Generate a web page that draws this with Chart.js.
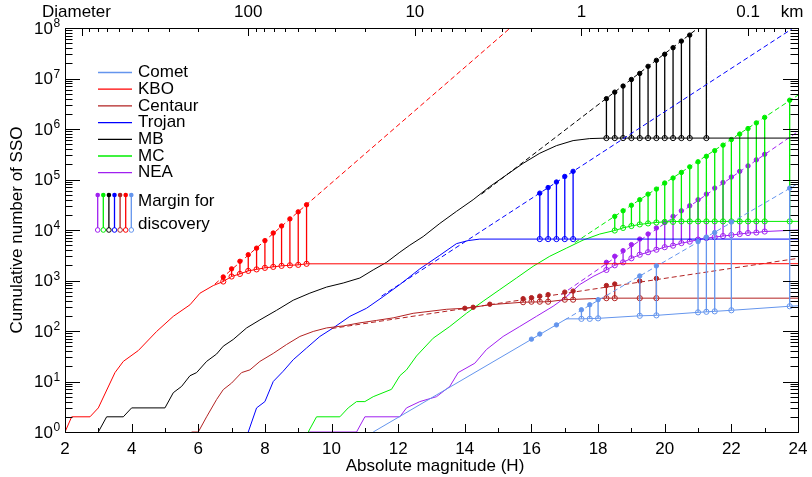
<!DOCTYPE html>
<html>
<head>
<meta charset="utf-8">
<script src="https://cdn.jsdelivr.net/npm/chart.js@4.4.1/dist/chart.umd.min.js"></script>
<style>
  html, body { margin: 0; background: #fff; }
  #wrap { width: 812px; height: 477px; }
</style>
</head>
<body>
<div id="wrap"><canvas id="c" width="812" height="477"></canvas></div>
<script>
// ---- values (H = absolute magnitude, N = cumulative number) ----
const cometH = [11.25, 17.05, 17.5, 18.0, 19.25, 19.75, 21.0, 21.5, 22.0, 23.75, 24.0];
const cometN = [1, 174, 174, 178, 200, 204, 234, 245, 257, 309, 316];
const cometDashH = [17.0, 24.0];
const cometDashN = [166, 83200];
const cometStemH = [16.0, 16.25, 16.75, 17.5, 17.75, 18.0, 19.25, 19.75, 21.0, 21.25, 21.5, 22.0, 23.75];
const cometModel = [69, 87, 132, 263, 331, 417, 1230, 1950, 5890, 7240, 8910, 14500, 67600];
const cometKnown = [null, null, null, 174, 174, 178, 200, 204, 234, 240, 245, 257, 309];

const kboH = [2.0, 2.2, 2.75, 3.0, 3.5, 3.75, 4.2, 4.75, 5.25, 5.75, 6.05, 6.45, 6.75, 7.0, 7.25, 7.5, 7.75, 8.0, 8.25, 8.5, 8.75, 9.0, 9.25, 24.0];
const kboN = [1, 2, 2, 3, 15, 25, 41, 98, 195, 330, 560, 795, 955, 1200, 1350, 1550, 1660, 1780, 1860, 1950, 2000, 2040, 2140, 2150];
const kboDashH = [6.5, 15.5];
const kboDashN = [850, 1.2e8];
const kboStemH = [6.75, 7.0, 7.25, 7.5, 7.75, 8.0, 8.25, 8.5, 8.75, 9.0, 9.25];
const kboModel = [1175, 1700, 2400, 3240, 4370, 6170, 8710, 12000, 16600, 22900, 31600];
const kboKnown = [955, 1200, 1350, 1550, 1660, 1780, 1860, 1950, 2000, 2040, 2140];

const centH = [5.8, 6.0, 6.25, 6.55, 6.75, 7.0, 7.3, 7.55, 7.85, 8.25, 8.65, 9.05, 9.45, 9.85, 10.35, 10.85, 11.35, 11.85, 12.45, 13.45, 14.0, 14.25, 14.75, 15.75, 16.5, 17.0, 17.85, 18.25, 24.0];
const centN = [1, 1, 2, 4.4, 6.9, 9.3, 15, 17, 25, 36, 54, 78, 98, 115, 126, 145, 162, 182, 224, 269, 282, 295, 331, 372, 380, 417, 437, 447, 447];
const centDashH = [10.0, 24.0];
const centDashN = [112, 2750];
const centStemH = [14.0, 14.25, 14.75, 15.75, 16.0, 16.25, 16.5, 17.0, 17.25, 18.25, 18.5, 19.25, 19.75];
const centModel = [282, 295, 339, 437, 457, 490, 525, 589, 617, 794, 851, 977, 1100];
const centKnown = [null, null, null, 372, 380, 380, 380, 417, 417, 447, 447, 447, 447];

const trojH = [7.5, 7.75, 8.0, 8.25, 8.55, 8.85, 9.25, 9.65, 10.05, 10.55, 11.05, 11.55, 12.05, 12.65, 13.25, 13.75, 14.1, 14.45, 24.0];
const trojN = [1, 3, 4, 10, 16, 27, 46, 78, 115, 195, 282, 479, 832, 1700, 3160, 5370, 6170, 6610, 6610];
const trojDashH = [11.5, 24.0];
const trojDashN = [490, 1.15e8];
const trojStemH = [16.25, 16.5, 16.75, 17.0, 17.25];
const trojModel = [53700, 69200, 89100, 115000, 145000];
const trojKnown = [6610, 6610, 6610, 6610, 6610];

const mbH = [3.0, 3.25, 3.75, 4.0, 5.0, 5.25, 5.5, 5.75, 5.95, 6.25, 6.55, 6.75, 7.05, 7.45, 7.85, 8.35, 8.85, 9.35, 9.85, 10.35, 10.85, 11.25, 11.65, 12.05, 12.35, 12.75, 13.25, 13.75, 14.25, 14.75, 15.25, 15.75, 16.25, 16.75, 17.25, 17.75, 18.25, 24.0];
const mbN = [1, 2, 2, 3, 3, 6, 8, 13, 15, 25, 35, 50, 68, 115, 166, 257, 407, 562, 741, 891, 1120, 1620, 2290, 3630, 5010, 7410, 13500, 23400, 39800, 72400, 123000, 209000, 331000, 468000, 589000, 646000, 661000, 661000];
const mbDashH = [14.5, 21.6];
const mbDashN = [51300, 2.0e8];
const mbStemH = [18.25, 18.5, 18.75, 19.0, 19.25, 19.5, 19.75, 20.0, 20.25, 20.5, 20.75, 21.25];
const mbModel = [3.98e6, 5.37e6, 7.08e6, 9.55e6, 1.26e7, 1.74e7, 2.29e7, 3.02e7, 4.07e7, 5.50e7, 7.24e7, 1.3e8];
const mbKnown = [661000, 661000, 661000, 661000, 661000, 661000, 661000, 661000, 661000, 661000, 661000, 661000];

const mcH = [9.3, 9.55, 10.25, 10.5, 10.75, 11.0, 11.25, 11.8, 12.05, 12.25, 12.55, 13.05, 13.55, 14.05, 14.55, 15.05, 15.55, 16.05, 16.55, 17.05, 17.55, 18.05, 18.5, 18.75, 19.0, 19.25, 19.5, 19.75, 20.0, 20.5, 24.0];
const mcN = [1, 2, 2, 3, 4, 4, 5, 7, 13, 17, 32, 72, 123, 224, 389, 661, 1120, 1910, 3020, 4370, 6310, 8320, 9770, 11000, 12000, 12900, 13500, 14100, 14500, 14800, 14800];
const mcDashH = [17.3, 24.0];
const mcDashN = [5620, 4.68e6];
const mcStemH = [18.5, 18.75, 19.0, 19.25, 19.5, 19.75, 20.0, 20.25, 20.5, 20.75, 21.0, 21.25, 21.5, 21.75, 22.0, 22.25, 22.5, 22.75, 23.0, 23.75];
const mcModel = [18600, 24000, 30900, 39800, 51300, 64600, 85100, 107000, 138000, 178000, 224000, 288000, 372000, 479000, 617000, 794000, 1.02e6, 1.32e6, 1.70e6, 3.72e6];
const mcKnown = [9770, 11000, 12000, 12900, 13500, 14100, 14500, 14500, 14800, 14800, 14800, 14800, 14800, 14800, 14800, 14800, 14800, 14800, 14800, 14800];

const neaH = [9.3, 10.75, 11.0, 12.05, 12.25, 12.65, 13.15, 13.55, 13.8, 14.3, 14.65, 15.15, 15.65, 16.15, 16.65, 17.05, 17.45, 17.85, 18.25, 18.5, 18.75, 19.0, 19.25, 19.5, 19.75, 20.0, 20.25, 20.5, 20.75, 21.0, 21.25, 21.5, 21.75, 22.0, 22.25, 22.5, 22.75, 23.0, 24.0];
const neaN = [1, 1, 2, 2, 3, 4, 5, 8, 15, 23, 43, 78, 123, 195, 309, 479, 832, 1200, 1620, 2000, 2290, 2750, 3240, 3630, 4070, 4570, 4900, 5500, 5890, 6460, 6920, 7240, 7590, 7940, 8320, 8710, 8910, 9330, 10000];
const neaDashH = [16.9, 24.0];
const neaDashN = [525, 891000];
const neaStemH = [18.25, 18.5, 18.75, 19.0, 19.25, 19.5, 19.75, 20.0, 20.25, 20.5, 20.75, 21.0, 21.25, 21.5, 21.75, 22.0, 22.25, 22.5, 22.75, 23.0];
const neaModel = [2290, 3020, 3890, 5130, 6610, 8320, 11000, 14100, 18600, 24000, 30200, 39800, 51300, 67600, 87100, 112000, 145000, 186000, 245000, 316000];
const neaKnown = [1620, 2000, 2290, 2750, 3240, 3630, 4070, 4570, 4900, 5500, 5890, 6460, 6920, 7240, 7590, 7940, 8320, 8710, 8910, 9330];

const diamLabels = ['100', '10', '1', '0.1'];
const xTickLabels = [2, 4, 6, 8, 10, 12, 14, 16, 18, 20, 22, 24];
const yExponents = [0, 1, 2, 3, 4, 5, 6, 7, 8];

const FONT = '"Liberation Sans", Arial, Helvetica, sans-serif';

const pops = [
  { name: 'Comet', color: '#6495ed', H: cometH, N: cometN, dH: cometDashH, dN: cometDashN, sH: cometStemH, top: cometModel, bot: cometKnown },
  { name: 'KBO', color: '#ff0000', H: kboH, N: kboN, dH: kboDashH, dN: kboDashN, sH: kboStemH, top: kboModel, bot: kboKnown },
  { name: 'Centaur', color: '#b22222', H: centH, N: centN, dH: centDashH, dN: centDashN, sH: centStemH, top: centModel, bot: centKnown },
  { name: 'Trojan', color: '#0000ff', H: trojH, N: trojN, dH: trojDashH, dN: trojDashN, sH: trojStemH, top: trojModel, bot: trojKnown },
  { name: 'MB', color: '#000000', H: mbH, N: mbN, dH: mbDashH, dN: mbDashN, sH: mbStemH, top: mbModel, bot: mbKnown },
  { name: 'MC', color: '#00ee00', H: mcH, N: mcN, dH: mcDashH, dN: mcDashN, sH: mcStemH, top: mcModel, bot: mcKnown },
  { name: 'NEA', color: '#a020f0', H: neaH, N: neaN, dH: neaDashH, dN: neaDashN, sH: neaStemH, top: neaModel, bot: neaKnown },
];

const pts = (xs, ys) => xs.map((h, i) => ({ x: h, y: ys[i] }));

function stemPts(hs, top, bot) {
  const out = [];
  hs.forEach((h, i) => {
    if (bot[i] == null) return;
    out.push({ x: h, y: bot[i] }, { x: h, y: top[i] }, { x: h, y: null });
  });
  return out;
}

const datasets = [];
pops.forEach((p) => {
  datasets.push({ data: pts(p.H, p.N), borderColor: p.color, borderWidth: 1, pointRadius: 0 });
  datasets.push({ data: pts(p.dH, p.dN), borderColor: p.color, borderWidth: 1, borderDash: [5, 3], pointRadius: 0 });
  datasets.push({ data: stemPts(p.sH, p.top, p.bot), borderColor: p.color, borderWidth: 1.3, pointRadius: 0, spanGaps: false });
  datasets.push({ data: pts(p.sH, p.top), showLine: false, pointRadius: 2.2, pointBorderWidth: 1, pointBackgroundColor: p.color, pointBorderColor: p.color });
  datasets.push({
    data: pts(p.sH, p.bot).filter((d) => d.y != null), showLine: false,
    pointRadius: 2.6, pointBorderWidth: 1, pointBackgroundColor: 'rgba(0,0,0,0)', pointBorderColor: p.color
  });
});

// frame, inward ticks, axis labels, legend
const decor = {
  id: 'decor',
  afterDraw(chart) {
    const { ctx, chartArea: a, scales: { x, y } } = chart;
    const r = (v) => Math.round(v) + 0.5;
    ctx.save();
    ctx.strokeStyle = '#000';
    ctx.lineWidth = 1;
    ctx.strokeRect(r(a.left), r(a.top), Math.round(a.right - a.left), Math.round(a.bottom - a.top));
    ctx.beginPath();
    // bottom H ticks
    for (let h = 2; h <= 24; h++) {
      const px = r(x.getPixelForValue(h));
      const len = h % 2 === 0 ? 8 : 4;
      ctx.moveTo(px, a.bottom); ctx.lineTo(px, a.bottom - len);
    }
    // y ticks, left and right
    for (let e = 0; e <= 8; e++) {
      for (let m = 1; m <= 9; m++) {
        if (e === 8 && m > 1) break;
        const py = r(y.getPixelForValue(m * Math.pow(10, e)));
        const len = m === 1 ? 15 : 7.5;
        ctx.moveTo(a.left, py); ctx.lineTo(a.left + len, py);
        ctx.moveTo(a.right, py); ctx.lineTo(a.right - len, py);
      }
    }
    // top diameter ticks (H = 17.5 - 5 log10 D)
    const hOfD = (d) => 17.5 - 5 * Math.log10(d);
    for (let e = -2; e <= 3; e++) {
      for (let m = 1; m <= 9; m++) {
        const h = hOfD(m * Math.pow(10, e));
        if (h < 2 || h > 24) continue;
        const px = r(x.getPixelForValue(h));
        const len = m === 1 ? 8 : 4;
        ctx.moveTo(px, a.top); ctx.lineTo(px, a.top + len);
      }
    }
    ctx.stroke();

    ctx.fillStyle = '#000';
    // x tick labels
    ctx.font = '17px ' + FONT;
    ctx.textAlign = 'center';
    ctx.textBaseline = 'middle';
    xTickLabels.forEach((h) => ctx.fillText(String(h), x.getPixelForValue(h), 449));
    // x title
    ctx.fillText('Absolute magnitude (H)', 435, 466);
    // top labels
    ctx.textAlign = 'left';
    ctx.fillText('Diameter', 42, 12);
    ctx.textAlign = 'center';
    diamLabels.forEach((t) => ctx.fillText(t, x.getPixelForValue(hOfD(parseFloat(t))), 12));
    ctx.fillText('km', 792, 12);
    // y tick labels 10^n
    yExponents.forEach((e) => {
      const py = y.getPixelForValue(Math.pow(10, e));
      ctx.font = '17px ' + FONT;
      ctx.textAlign = 'right';
      ctx.textBaseline = 'middle';
      ctx.fillText('10', 53, py + 1);
      ctx.font = '12px ' + FONT;
      ctx.textAlign = 'left';
      ctx.textBaseline = 'alphabetic';
      ctx.fillText(String(e), 53.5, py - 1);
    });
    // y title
    ctx.save();
    ctx.translate(17, 230);
    ctx.rotate(-Math.PI / 2);
    ctx.font = '17px ' + FONT;
    ctx.textAlign = 'center';
    ctx.textBaseline = 'middle';
    ctx.fillText('Cumulative number of SSO', 0, 0);
    ctx.restore();

    // legend
    ctx.font = '17px ' + FONT;
    ctx.textAlign = 'left';
    ctx.textBaseline = 'middle';
    pops.forEach((p, i) => {
      const ly = 72.5 + i * 16.7;
      ctx.strokeStyle = p.color;
      ctx.lineWidth = 1.3;
      ctx.beginPath(); ctx.moveTo(98, ly); ctx.lineTo(132, ly); ctx.stroke();
      ctx.fillStyle = '#000';
      ctx.fillText(p.name, 138, ly);
    });
    const order = [6, 5, 4, 3, 2, 1, 0];
    order.forEach((k, i) => {
      const lx = 97.7 + i * 5.6;
      const c = pops[k].color;
      ctx.strokeStyle = c; ctx.fillStyle = c; ctx.lineWidth = 1.3;
      ctx.beginPath(); ctx.moveTo(lx, 195); ctx.lineTo(lx, 228); ctx.stroke();
      ctx.beginPath(); ctx.arc(lx, 195, 2.3, 0, Math.PI * 2); ctx.fill();
      ctx.lineWidth = 1;
      ctx.beginPath(); ctx.arc(lx, 230, 2.3, 0, Math.PI * 2); ctx.stroke();
    });
    ctx.fillStyle = '#000';
    ctx.fillText('Margin for', 138, 201);
    ctx.fillText('discovery', 138, 224);
    ctx.restore();
  }
};

new Chart(document.getElementById('c'), {
  type: 'line',
  data: { datasets },
  options: {
    responsive: false,
    animation: false,
    layout: { padding: { left: 65, right: 14, top: 28, bottom: 45 } },
    elements: { line: { tension: 0 } },
    plugins: { legend: { display: false }, tooltip: { enabled: false } },
    scales: {
      x: { type: 'linear', min: 2, max: 24, display: false },
      y: { type: 'logarithmic', min: 1, max: 1e8, display: false },
    },
  },
  plugins: [decor],
});
</script>
</body>
</html>
